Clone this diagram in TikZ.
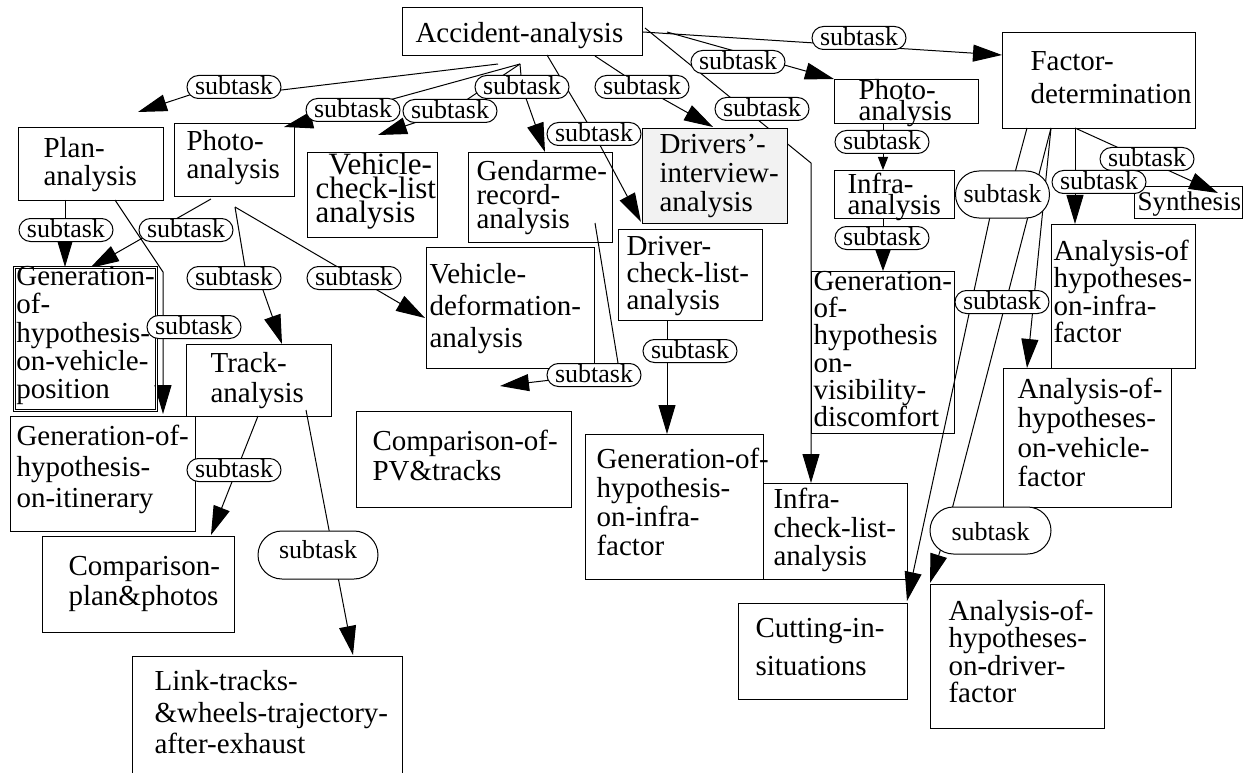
\documentclass[tikz,border=0pt]{standalone}
\usepackage{fontspec}
\setmainfont{Liberation Serif}
\usetikzlibrary{arrows.meta,calc,backgrounds}
\exhyphenpenalty=10000
\hyphenpenalty=10000
\newcommand{\bsk}[1]{\fontsize{29}{#1}\selectfont}
\tikzset{
  bx/.style={draw, line width=1.1pt, rectangle, anchor=north west, inner ysep=0pt, align=left},
  lb/.style={draw, line width=1pt, fill=white, rectangle, rounded corners=11.5pt, inner xsep=8pt, inner ysep=0pt, text height=19pt, text depth=4pt, font=\fontsize{26}{28}\selectfont},
  con/.style={line width=1pt},
  arr/.style={con, -{Triangle[length=29pt,width=17pt]}},
  arrs/.style={con, -{Triangle[length=13pt,width=10pt]}},
  arrm/.style={con, -{Triangle[length=21pt,width=15pt]}}
}
\begin{document}
\begin{tikzpicture}[x=1pt,y=-1pt]
\useasboundingbox (0,0) rectangle (1259,773);

% boxes
\node[bx, text width=214pt, inner xsep=13pt, text height=35pt, text depth=13pt, font=\bsk{28}] (acc) at (402,7) {Accident-analysis};
\node[bx, text width=137pt, inner xsep=28pt, text height=38pt, text depth=58pt, font=\bsk{33}] (fac) at (1002,32) {Factor-\\determination};
\node[bx, text width=95pt, inner xsep=25pt, text height=30pt, text depth=43pt, font=\bsk{28}] (plan) at (18,127) {Plan-\\analysis};
\node[bx, text width=96pt, inner xsep=12pt, text height=27pt, text depth=46pt, font=\bsk{28}] (photoL) at (174,123) {Photo-\\analysis};
\node[bx, text width=114pt, inner xsep=8pt, text height=22pt, text depth=63pt, font=\fontsize{31}{24}\selectfont] (vcl) at (307,152) {\hspace*{13pt}Vehicle-\\check-list\\analysis};
\node[bx, text width=128pt, inner xsep=8pt, text height=28pt, text depth=62pt, font=\bsk{24}] (gend) at (468,152) {Gendarme-\\record-\\analysis};
\node[bx, fill=black!5, text width=111pt, inner xsep=17pt, text height=25pt, text depth=70pt, font=\bsk{29}] (drint) at (642,128) {Drivers'-\\interview-\\analysis};
\node[bx, text width=128pt, inner xsep=8pt, text height=26pt, text depth=65pt, font=\bsk{27}] (drcl) at (618,229) {Driver-\\check-list-\\analysis};
\node[bx, text width=96pt, inner xsep=24pt, text height=20pt, text depth=24pt, font=\bsk{18}] (photoR) at (834,79) {Photo-\\analysis};
\node[bx, text width=94pt, inner xsep=13pt, text height=23pt, text depth=25pt, font=\bsk{17}] (infra) at (834,170) {Infra-\\analysis};
\node[bx, text width=139pt, inner xsep=2pt, text height=19pt, text depth=143pt, font=\bsk{27.2}] (genvis) at (811,271) {Generation-\\of-\\hypothesis\\on-\\visibility-\\discomfort};
\node[bx, text width=124pt, inner xsep=10pt, text height=25pt, text depth=71pt, font=\bsk{28.5}] (infracl) at (763,483) {Infra-\\check-list-\\analysis};
\node[bx, text width=156pt, inner xsep=11pt, text height=34pt, text depth=111pt, font=\bsk{29}] (geninf) at (585,434) {Generation-of-\\hypothesis-\\on-infra-\\factor};
\node[bx, text width=135pt, inner xsep=17pt, text height=34pt, text depth=62pt, font=\bsk{38}] (cut) at (738,603) {Cutting-in-\\situations};
\node[bx, text width=138pt, inner xsep=18pt, text height=36pt, text depth=108pt, font=\bsk{27.3}] (anadrv) at (930,584) {Analysis-of-\\hypotheses-\\on-driver-\\factor};
\node[bx, text width=140pt, inner xsep=14pt, text height=30pt, text depth=109pt, font=\bsk{29.3}] (anaveh) at (1003,368) {Analysis-of-\\hypotheses-\\on-vehicle-\\factor};
\node[bx, text width=140pt, inner xsep=2pt, text height=36pt, text depth=108pt, font=\bsk{27.3}] (anainf) at (1051,224) {Analysis-of\\hypotheses-\\on-infra-\\factor};
\node[bx, text width=102pt, inner xsep=3pt, text height=24pt, text depth=8pt, font=\fontsize{27}{28}\selectfont] (syn) at (1134,186) {Synthesis};
\node[bx, double, double distance=1.3pt, line width=0.8pt, text width=138pt, inner xsep=2pt, text height=18pt, text depth=125pt, font=\bsk{28.3}] (genpos) at (14,267) {Generation-\\of-\\hypothesis-\\on-vehicle-\\position};
\node[bx, text width=173pt, inner xsep=6pt, text height=29pt, text depth=86pt, font=\bsk{31}] (genitin) at (10,416) {Generation-of-\\hypothesis-\\on-itinerary};
\node[bx, text width=97pt, inner xsep=24pt, text height=28pt, text depth=44pt, font=\bsk{30}] (track) at (186,344) {Track-\\analysis};
\node[bx, text width=162pt, inner xsep=3pt, text height=36pt, text depth=85pt, font=\bsk{32}] (vdef) at (426,247) {Vehicle-\\deformation-\\analysis};
\node[bx, text width=183pt, inner xsep=16pt, text height=39pt, text depth=57pt, font=\bsk{30}] (cmppv) at (356,411) {Comparison-of-\\PV\&tracks};
\node[bx, text width=140pt, inner xsep=26pt, text height=39pt, text depth=57pt, font=\bsk{30}] (cmppl) at (42,536) {Comparison-\\plan\&photos};
\node[bx, text width=226pt, inner xsep=22pt, text height=34pt, text depth=116pt, font=\bsk{31.5}] (link) at (132,656) {Link-tracks-\\\&wheels-trajectory-\\after-exhaust};

% labels
\node[lb] (L1) at (234,87) {subtask};
\node[lb] (L2) at (353,110) {subtask};
\node[lb] (L3) at (450,111) {subtask};
\node[lb] (L4) at (522,87) {subtask};
\node[lb] (L5) at (594,134) {subtask};
\node[lb] (L6) at (642,87) {subtask};
\node[lb] (L7) at (738,62) {subtask};
\node[lb] (L8) at (859,38) {subtask};
\node[lb] (L9) at (762,109) {subtask};
\node[lb] (L10) at (882,142) {subtask};
\node[lb] (L11) at (882,238) {subtask};
\node[lb] (L12) at (1147,159) {subtask};
\node[lb] (L13) at (1099,182) {subtask};
\node[lb] (L14) at (1002,302) {subtask};
\node[lb] (L17) at (66,230) {subtask};
\node[lb] (L18) at (186,230) {subtask};
\node[lb] (L19) at (194,327) {subtask};
\node[lb] (L20) at (234,278) {subtask};
\node[lb] (L21) at (354,278) {subtask};
\node[lb] (L22) at (594,375) {subtask};
\node[lb] (L23) at (690,351) {subtask};
\node[lb] (L24) at (234,470) {subtask};
\node[lb, rounded corners=23.5pt, text height=31pt, text depth=16pt] (LA) at (1002.5,194.5) {subtask};
\node[lb, rounded corners=23.5pt, minimum width=121pt, text height=33pt, text depth=14pt] (LB) at (990.5,530.5) {subtask};
\node[lb, rounded corners=24pt, minimum width=120pt, text height=27pt, text depth=21pt] (LC) at (318,555) {subtask};

% connector end points
\coordinate (s1) at (498,64);   \coordinate (t1) at (138,112);
\coordinate (s2) at (520,64);   \coordinate (t2) at (284,127);
\coordinate (t3) at (378,135);  \coordinate (t4) at (545,152);
\coordinate (s5) at (547,55);   \coordinate (t5) at (641,222);
\coordinate (s6) at (595,56);   \coordinate (t6) at (713,127);
\coordinate (s7) at (667,32);   \coordinate (t7) at (834,79);
\coordinate (s8) at (643,32);   \coordinate (t8) at (1002,55);
\coordinate (s9) at (645,28);   \coordinate (b9) at (811,163);  \coordinate (t9) at (811,483);
\coordinate (s10) at (883,123); \coordinate (t10) at (883,170);
\coordinate (s11) at (883,218); \coordinate (t11) at (883,271);
\coordinate (s12) at (1075,128); \coordinate (t12) at (1218,193); \coordinate (t13) at (1075,224);
\coordinate (s14) at (1051,128); \coordinate (t14) at (1027,368); \coordinate (t16) at (930,583);
\coordinate (s15) at (1027,128); \coordinate (t15) at (907,601);
\coordinate (s17) at (65,200);  \coordinate (t17) at (65,267);
\coordinate (s18) at (211,199); \coordinate (t18) at (90,268);
\coordinate (s19) at (115,200); \coordinate (b19) at (163,272); \coordinate (t19) at (163,414);
\coordinate (s20) at (235,207); \coordinate (t20) at (282,344); \coordinate (t21) at (425,318);
\coordinate (s22) at (595,223); \coordinate (t22) at (500,386);
\coordinate (s23) at (667,320); \coordinate (t23) at (667,434);
\coordinate (s24) at (258,416); \coordinate (t24) at (211,535);
\coordinate (s25) at (306,410); \coordinate (t25) at (353,655);

\begin{pgfonlayer}{background}
\draw[arr] (s1) -- ($(L1.east)+(0,3)$) -- ($(L1.west)+(3,8)$) -- (t1);
\draw[arr] (s2) -- (L2.center) -- (t2);
\draw[arr] (s2) -- (L3.center) -- (t3);
\draw[arr] (s2) -- (L4.center) -- (t4);
\draw[arr] (s5) -- (L5.center) -- (t5);
\draw[arr] (s6) -- (L6.center) -- (t6);
\draw[arr] (s7) -- (t7);
\draw[arr] (s8) -- (t8);
\draw[arr] (s9) -- (b9) -- (t9);
\draw[arrs] (s10) -- (t10);
\draw[arrm] (s11) -- (t11);
\draw[arr] (s12) -- (t12);
\draw[arr] (s12) -- (t13);
\draw[arr] (s14) -- (t14);
\draw[arr] (s15) -- ($(LA.center)+(12,-20)$) -- ($(LA.center)+(-12,20)$) -- (t15);
\draw[arr] (s14) -- ($(LB.center)+(-44,0)$) -- (t16);
\draw[arr] (s17) -- (t17);
\draw[arr] (s18) -- (t18);
\draw[arr] (s19) -- (b19) -- (t19);
\draw[arr] (s20) -- ($(L20.center)+(11,-11)$) -- ($(L20.center)+(29,12)$) -- (t20);
\draw[arr] (s20) -- (t21);
\draw[arr] (s22) -- ($(L22.center)+(24,-12)$) -- (L22.center) -- (t22);
\draw[arr] (s23) -- (t23);
\draw[arr] (s24) -- (t24);
\draw[arr] (s25) -- (t25);
\end{pgfonlayer}
\end{tikzpicture}
\end{document}
